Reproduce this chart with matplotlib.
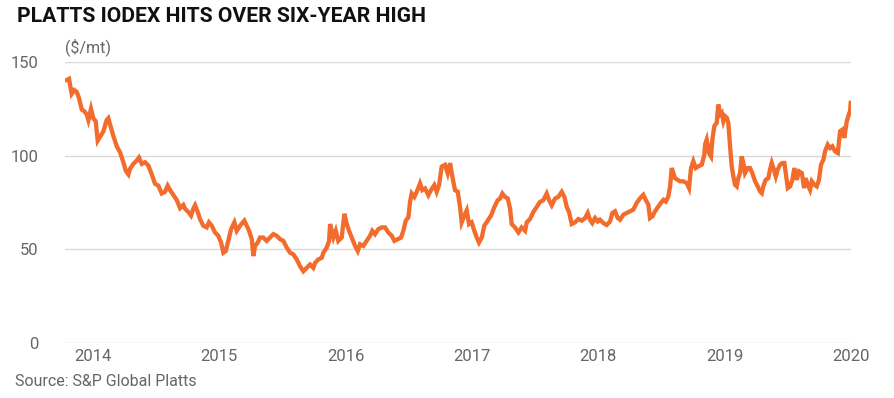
import matplotlib
matplotlib.use("Agg")
import matplotlib.pyplot as plt

# IODEX 62% Fe, $/mt (x in chart-year units)
years = [
    2013.792, 2013.810, 2013.831, 2013.852, 2013.871, 2013.889, 2013.911, 2013.931, 2013.950, 2013.963,
    2013.984, 2014.002, 2014.021, 2014.037, 2014.055, 2014.082, 2014.108, 2014.121, 2014.135, 2014.161,
    2014.188, 2014.214, 2014.240, 2014.259, 2014.280, 2014.293, 2014.319, 2014.346, 2014.364, 2014.386,
    2014.412, 2014.438, 2014.465, 2014.491, 2014.517, 2014.544, 2014.570, 2014.591, 2014.610, 2014.636,
    2014.663, 2014.689, 2014.715, 2014.728, 2014.755, 2014.776, 2014.794, 2014.808, 2014.829, 2014.847,
    2014.873, 2014.900, 2014.918, 2014.940, 2014.966, 2014.992, 2015.014, 2015.032, 2015.051, 2015.071,
    2015.093, 2015.119, 2015.138, 2015.164, 2015.198, 2015.217, 2015.235, 2015.257, 2015.269, 2015.283,
    2015.304, 2015.322, 2015.348, 2015.375, 2015.401, 2015.428, 2015.455, 2015.481, 2015.507, 2015.534,
    2015.560, 2015.586, 2015.613, 2015.639, 2015.665, 2015.692, 2015.718, 2015.744, 2015.758, 2015.784,
    2015.811, 2015.824, 2015.850, 2015.869, 2015.877, 2015.890, 2015.903, 2015.922, 2015.942, 2015.969,
    2015.990, 2016.009, 2016.027, 2016.048, 2016.075, 2016.096, 2016.114, 2016.140, 2016.167, 2016.193,
    2016.211, 2016.233, 2016.259, 2016.286, 2016.312, 2016.338, 2016.365, 2016.386, 2016.413, 2016.439,
    2016.457, 2016.476, 2016.497, 2016.510, 2016.523, 2016.544, 2016.563, 2016.589, 2016.607, 2016.629,
    2016.655, 2016.676, 2016.702, 2016.721, 2016.740, 2016.761, 2016.787, 2016.808, 2016.827, 2016.845,
    2016.866, 2016.888, 2016.906, 2016.919, 2016.940, 2016.959, 2016.977, 2016.998, 2017.019, 2017.038,
    2017.056, 2017.078, 2017.098, 2017.125, 2017.151, 2017.178, 2017.204, 2017.223, 2017.241, 2017.262,
    2017.284, 2017.302, 2017.315, 2017.341, 2017.368, 2017.394, 2017.421, 2017.434, 2017.460, 2017.486,
    2017.513, 2017.539, 2017.565, 2017.592, 2017.611, 2017.632, 2017.658, 2017.684, 2017.711, 2017.732,
    2017.751, 2017.769, 2017.790, 2017.816, 2017.843, 2017.870, 2017.896, 2017.917, 2017.935, 2017.953,
    2017.975, 2017.996, 2018.014, 2018.041, 2018.067, 2018.094, 2018.112, 2018.133, 2018.155, 2018.173,
    2018.199, 2018.226, 2018.252, 2018.278, 2018.305, 2018.331, 2018.357, 2018.376, 2018.397, 2018.410,
    2018.429, 2018.450, 2018.476, 2018.497, 2018.516, 2018.535, 2018.555, 2018.569, 2018.582, 2018.595,
    2018.608, 2018.630, 2018.648, 2018.674, 2018.701, 2018.719, 2018.735, 2018.753, 2018.772, 2018.793,
    2018.820, 2018.840, 2018.846, 2018.859, 2018.877, 2018.893, 2018.904, 2018.919, 2018.938, 2018.951,
    2018.965, 2018.978, 2018.991, 2019.004, 2019.018, 2019.030, 2019.044, 2019.057, 2019.070, 2019.083,
    2019.097, 2019.109, 2019.123, 2019.136, 2019.149, 2019.162, 2019.184, 2019.202, 2019.220, 2019.242,
    2019.263, 2019.281, 2019.295, 2019.307, 2019.326, 2019.347, 2019.360, 2019.374, 2019.387, 2019.406,
    2019.421, 2019.440, 2019.458, 2019.474, 2019.485, 2019.501, 2019.519, 2019.537, 2019.553, 2019.572,
    2019.590, 2019.612, 2019.630, 2019.643, 2019.659, 2019.677, 2019.691, 2019.711, 2019.730, 2019.748,
    2019.764, 2019.783, 2019.796, 2019.817, 2019.836, 2019.854, 2019.875, 2019.897, 2019.915, 2019.933,
    2019.949, 2019.968, 2019.980, 2019.994, 2019.999,
]
prices = [
    140.4, 141.0, 133.0, 135.0, 134.0, 130.7, 124.6, 123.7, 122.0, 119.0,
    125.0, 120.0, 118.4, 108.0, 110.0, 113.0, 119.0, 120.0, 116.7, 110.5,
    105.0, 101.8, 96.5, 92.0, 90.0, 93.0, 95.6, 97.4, 99.0, 95.6,
    96.5, 94.7, 90.0, 85.0, 84.0, 79.8, 80.7, 84.0, 81.6, 79.0,
    76.3, 72.0, 73.7, 71.7, 69.9, 68.0, 71.7, 73.5, 69.9, 66.2,
    62.6, 61.7, 64.4, 62.6, 59.0, 57.2, 53.6, 48.2, 49.1, 54.5,
    60.8, 64.4, 59.9, 62.6, 65.3, 62.6, 59.9, 55.4, 46.4, 51.8,
    53.6, 56.3, 56.3, 54.5, 56.3, 58.1, 57.2, 55.4, 54.5, 50.9,
    48.2, 47.3, 44.6, 41.0, 38.3, 40.1, 41.9, 40.1, 42.8, 44.6,
    45.5, 48.2, 50.9, 54.5, 63.5, 59.9, 56.3, 59.9, 54.5, 56.3,
    69.0, 63.5, 59.9, 56.3, 51.8, 49.1, 52.7, 51.8, 54.5, 57.2,
    59.9, 58.1, 60.8, 61.7, 61.7, 59.0, 57.2, 54.5, 55.4, 56.3,
    59.9, 65.3, 67.1, 75.3, 79.8, 78.0, 80.7, 85.2, 81.6, 82.5,
    78.9, 81.6, 84.3, 80.7, 84.3, 94.2, 95.1, 90.6, 96.0, 88.8,
    81.6, 80.7, 72.6, 64.4, 68.0, 70.8, 63.5, 64.4, 59.9, 56.3,
    53.6, 56.3, 62.6, 65.3, 68.0, 72.6, 76.2, 77.1, 79.8, 78.0,
    77.1, 71.7, 63.5, 61.7, 59.0, 61.7, 59.9, 64.4, 66.2, 69.9,
    72.6, 75.3, 76.2, 79.8, 76.2, 73.5, 77.1, 78.0, 80.7, 78.0,
    72.6, 69.9, 63.5, 64.4, 66.2, 65.3, 66.7, 69.4, 65.8, 64.0,
    66.7, 64.9, 65.8, 64.0, 63.0, 64.9, 69.4, 70.3, 66.7, 65.8,
    68.5, 69.4, 70.3, 71.2, 74.8, 77.3, 79.1, 76.4, 73.8, 66.7,
    67.6, 70.3, 72.9, 74.8, 76.4, 75.5, 78.2, 83.6, 93.4, 90.7,
    88.0, 87.1, 86.3, 86.3, 85.4, 82.7, 93.4, 97.0, 93.4, 94.3,
    95.2, 100.5, 106.0, 108.6, 101.4, 99.6, 108.6, 115.7, 117.5, 127.3,
    122.0, 122.9, 118.4, 121.1, 120.2, 117.5, 105.0, 94.3, 88.9, 84.5,
    83.6, 88.0, 90.7, 99.6, 96.1, 90.7, 93.4, 93.4, 90.7, 86.3,
    83.6, 80.9, 80.0, 83.6, 87.1, 88.0, 92.5, 96.1, 93.4, 88.9,
    92.5, 95.2, 96.1, 96.1, 90.7, 82.7, 83.6, 87.1, 93.4, 87.1,
    91.6, 90.7, 82.7, 88.0, 84.5, 81.8, 86.3, 84.5, 83.6, 87.1,
    95.2, 97.9, 102.3, 105.9, 104.1, 105.0, 102.3, 101.4, 113.0, 113.9,
    109.5, 118.4, 121.1, 123.8, 128.2,
]
year_ticks = [2014, 2015, 2016, 2017, 2018, 2019, 2020]
y_ticks = [0, 50, 100, 150]

plt.rcParams["font.family"] = ["Roboto", "DejaVu Sans"]
GREY = "#666666"

fig = plt.figure(figsize=(8.94, 3.98), dpi=100)
ax = fig.add_axes([0.0727, 0.1382, 0.8790, 0.7060])

ax.plot(years, prices, color="#F26C2D", lw=3.1, solid_joinstyle="miter", zorder=3)

ax.set_ylim(0, 150)
ax.set_xlim(2013.778, 2020.0)
ax.set_yticks(y_ticks)
ax.set_xticks(year_ticks)
ax.set_xticklabels([str(y) for y in year_ticks])
ax.grid(axis="y", color="#d9d9d9", lw=1.0)
ax.set_axisbelow(True)
for s in ax.spines.values():
    s.set_visible(False)
ax.tick_params(axis="both", length=0, labelsize=12, labelcolor=GREY)
ax.tick_params(axis="y", pad=19)
ax.tick_params(axis="x", pad=4)

fig.text(17 / 894, 1 - 16 / 398, "PLATTS IODEX HITS OVER SIX-YEAR HIGH",
         fontsize=15.2, fontweight="bold", color="#111111", va="center", ha="left")
fig.text(65 / 894, 1 - 47 / 398, "($/mt)", fontsize=11.5, color=GREY, va="center", ha="left")
fig.text(15 / 894, 1 - 381 / 398, "Source: S&P Global Platts", fontsize=11.5, color=GREY,
         va="center", ha="left")

fig.savefig("out.png", dpi=100)
